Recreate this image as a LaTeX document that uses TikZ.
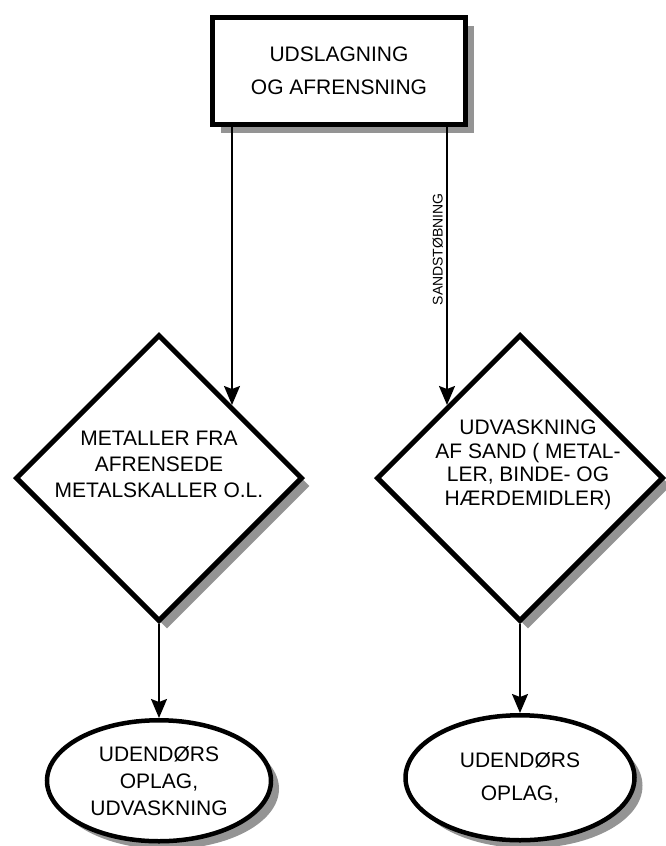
\documentclass[tikz,border=0pt]{standalone}
\usepackage{fontspec}
\setmainfont{Liberation Sans}
\usetikzlibrary{arrows.meta,positioning,shapes.geometric,shadows,calc}

\begin{document}
\begin{tikzpicture}[
		  x=1pt, y=-1pt, node distance=90pt, >={Stealth[length=19pt,width=16pt,inset=3pt]},
		  shadowed/.style={drop shadow={shadow xshift=8pt, shadow yshift=-8pt, fill=black!42, opacity=1}},
		  box/.style={draw, line width=5pt, fill=white, shadowed, align=center, inner sep=0pt},
		  process/.style={box, rectangle, minimum width=253pt, minimum height=107pt, font=\fontsize{21}{33}\selectfont},
		  decision/.style={box, diamond, aspect=1, minimum width=287pt, minimum height=287pt},
		  store/.style={box, ellipse, line width=4.5pt},
		  txt/.style={align=center, inner sep=0pt},
		  flow/.style={->, line width=1.8pt}
		]
		\useasboundingbox (0,0) rectangle (666,846);
		\node[process] (c1_rens) at (339,71) {UDSLAGNING\\OG AFRENSNING};
		\node[decision] (c1_metal) at (159,478) {};
		\node[decision] (c1_sand) at (520,478) {};
		\node[txt, font=\fontsize{21}{26}\selectfont] (c1_metal_txt) at ($(c1_metal)+(0,-14)$) {METALLER FRA\\AFRENSEDE\\METALSKALLER O.L.};
		\node[txt, font=\fontsize{21}{23.5}\selectfont] (c1_sand_txt) at ($(c1_sand)+(8,-13)$) {UDVASKNING\\AF SAND ( METAL-\\LER, BINDE- OG\\HÆRDEMIDLER)};
		\node[store, below=94pt of c1_metal, minimum width=224pt, minimum height=121pt, font=\fontsize{21}{27}\selectfont] (c1_oplag1) {UDENDØRS\\OPLAG,\\UDVASKNING};
		\node[store, below=89pt of c1_sand, minimum width=229pt, minimum height=125pt, font=\fontsize{21}{33}\selectfont] (c1_oplag2) {UDENDØRS\\OPLAG,};
		
		\draw[flow] (c1_rens.south -| c1_metal.north east) -- (c1_metal.north east);
		\draw[flow] (c1_rens.south -| c1_sand.north west) -- node[pos=0.44, rotate=90, above, inner sep=3pt, font=\fontsize{14}{14}\selectfont] {SANDSTØBNING} (c1_sand.north west);
		\draw[flow] (c1_metal.south) -- (c1_metal.south |- c1_oplag1.north);
		\draw[flow] (c1_sand.south) -- (c1_sand.south |- c1_oplag2.north);
		\end{tikzpicture}
\end{document}
